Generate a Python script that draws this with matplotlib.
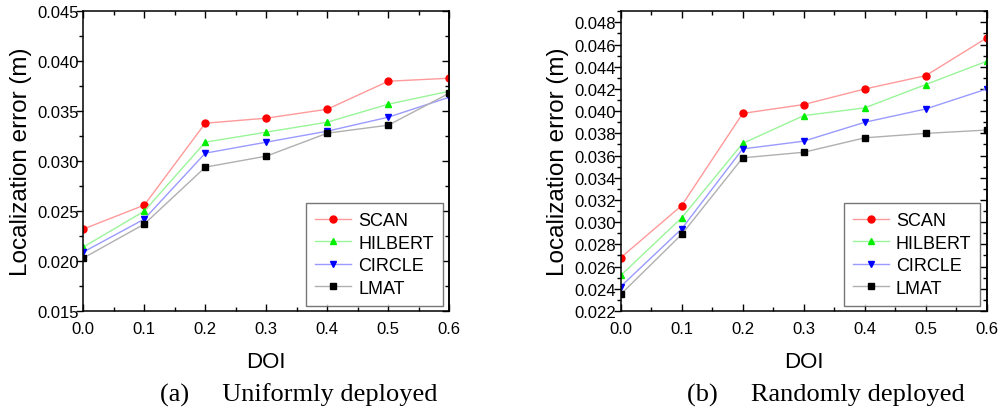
import numpy as np
import matplotlib.pyplot as plt
from matplotlib.ticker import MultipleLocator, FormatStrFormatter

doi = [0.0, 0.1, 0.2, 0.3, 0.4, 0.5, 0.6]
methods = ['SCAN', 'HILBERT', 'CIRCLE', 'LMAT']

# (a) uniformly deployed
uni_scan = [0.0232, 0.0256, 0.0338, 0.0343, 0.0352, 0.0380, 0.0383]
uni_hilbert = [0.0214, 0.0250, 0.0319, 0.0329, 0.0339, 0.0357, 0.0370]
uni_circle = [0.0209, 0.0242, 0.0308, 0.0319, 0.0330, 0.0344, 0.0364]
uni_lmat = [0.0203, 0.0237, 0.0294, 0.0305, 0.0328, 0.0336, 0.0368]

# (b) randomly deployed
rnd_scan = [0.0268, 0.0315, 0.0398, 0.0406, 0.0420, 0.0432, 0.0466]
rnd_hilbert = [0.0252, 0.0304, 0.0371, 0.0396, 0.0403, 0.0424, 0.0445]
rnd_circle = [0.0242, 0.0294, 0.0366, 0.0373, 0.0390, 0.0402, 0.0420]
rnd_lmat = [0.0235, 0.0289, 0.0358, 0.0363, 0.0376, 0.0380, 0.0383]

line_colors = ['#ff9a9a', '#9af59a', '#9a9aff', '#b0b0b0']
marker_colors = ['#ff0000', '#00ee00', '#0000ff', '#000000']
markers = ['o', '^', 'v', 's']

plt.rcParams['font.family'] = ['Liberation Sans', 'DejaVu Sans']


def draw_panel(ax, series, ylim, major, minor, caption, cap_x):
    for vals, name, lc, mc, mk in zip(series, methods, line_colors, marker_colors, markers):
        ax.plot(doi, vals, color=lc, lw=1.0, marker=mk, ms=5 if mk != 's' else 4.5,
                mfc=mc, mec=mc, label=name)
    ax.set_xlim(0.0, 0.6)
    ax.set_ylim(*ylim)
    ax.xaxis.set_major_locator(MultipleLocator(0.1))
    ax.xaxis.set_minor_locator(MultipleLocator(0.05))
    ax.yaxis.set_major_locator(MultipleLocator(major))
    ax.yaxis.set_minor_locator(MultipleLocator(minor))
    ax.xaxis.set_major_formatter(FormatStrFormatter('%.1f'))
    ax.yaxis.set_major_formatter(FormatStrFormatter('%.3f'))
    ax.tick_params(axis='x', which='both', direction='in', top=True, labelsize=12, pad=7)
    ax.tick_params(axis='y', which='both', direction='out', labelsize=12, pad=-1.5)
    ax.tick_params(which='major', length=4.8, width=1)
    ax.tick_params(which='minor', length=3, width=1)
    # right side ticks point inwards
    sec = ax.secondary_yaxis('right')
    sec.yaxis.set_major_locator(MultipleLocator(major))
    sec.yaxis.set_minor_locator(MultipleLocator(minor))
    sec.tick_params(which='both', direction='in', labelright=False)
    sec.tick_params(which='major', length=4.8, width=1)
    sec.tick_params(which='minor', length=3, width=1)
    for sp in ax.spines.values():
        sp.set_linewidth(1.1)
    sec.spines['right'].set_linewidth(1.1)
    ax.set_xlabel('DOI', fontsize=16, labelpad=11)
    ax.set_ylabel('Localization error (m)', fontsize=17.5, labelpad=4)
    leg = ax.legend(loc='lower right', bbox_to_anchor=(0.983, 0.018), borderaxespad=0,
                    fontsize=13, frameon=True, fancybox=False, edgecolor='#555555',
                    handlelength=2.0, handletextpad=0.4, labelspacing=0.3,
                    borderpad=0.5)
    leg.get_frame().set_linewidth(1.0)
    ax.text(cap_x, -0.277, caption, transform=ax.transAxes, ha='center', va='center',
            fontsize=19, family=['Liberation Serif', 'DejaVu Serif'])


fig = plt.figure(figsize=(10, 4.14), dpi=100)
ax1 = fig.add_axes([0.0833, 0.2464, 0.366, 0.7239])
ax2 = fig.add_axes([0.6207, 0.2464, 0.366, 0.7239])

draw_panel(ax1, [uni_scan, uni_hilbert, uni_circle, uni_lmat], (0.015, 0.045),
           0.005, 0.0025, '(a)     Uniformly deployed', 0.589)
draw_panel(ax2, [rnd_scan, rnd_hilbert, rnd_circle, rnd_lmat], (0.022, 0.049),
           0.002, 0.001, '(b)     Randomly deployed', 0.561)

fig.savefig('out.png', dpi=100)
